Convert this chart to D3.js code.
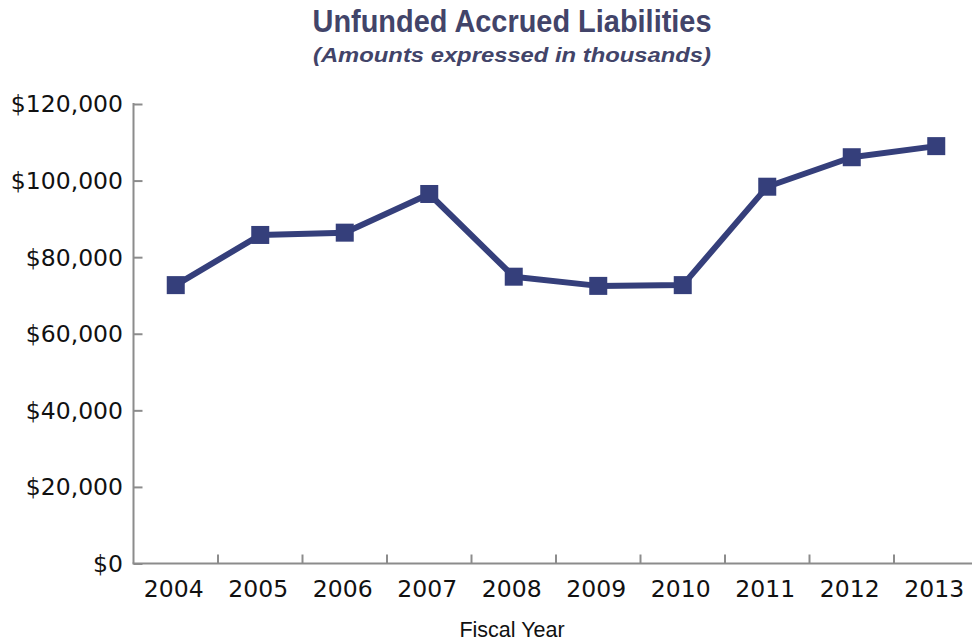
<!DOCTYPE html>
<html>
<head>
<meta charset="utf-8">
<script src="https://cdn.jsdelivr.net/npm/d3@7"></script>
<style>
  html, body { margin: 0; padding: 0; background: #ffffff; }
  svg { display: block; }
</style>
</head>
<body>
<svg id="chart" width="972" height="643"></svg>
<script>
// Unfunded accrued liabilities by fiscal year (amounts in thousands of dollars)
const years = ["2004", "2005", "2006", "2007", "2008", "2009", "2010", "2011", "2012", "2013"];
const liabilities = [72700, 85800, 86400, 96500, 74900, 72500, 72700, 98400, 106100, 109000];
const yTicks = [0, 20000, 40000, 60000, 80000, 100000, 120000];

const title = "Unfunded Accrued Liabilities";
const subtitle = "(Amounts expressed in thousands)";
const xTitle = "Fiscal Year";

const W = 972, H = 643;
const plotLeft = 133.5, plotTop = 104, plotBottom = 563.5;
const lineColor = "#353f7b";
const axisColor = "#8c8c8c";
const titleColor = "#424469";

const svg = d3.select("#chart");

const x = d3.scaleBand().domain(years).range([plotLeft, plotLeft + 84.5 * years.length]).padding(0);
const y = d3.scaleLinear().domain([0, 120000]).range([plotBottom, plotTop]);

// Titles
svg.append("text")
  .attr("x", 312.5).attr("y", 31.5)
  .attr("textLength", 399).attr("lengthAdjust", "spacingAndGlyphs")
  .style("font-family", "'Liberation Sans', Arial, sans-serif")
  .style("font-weight", "bold").style("font-size", "31px")
  .attr("fill", titleColor)
  .text(title);

svg.append("text")
  .attr("x", 313).attr("y", 61.5)
  .attr("textLength", 398).attr("lengthAdjust", "spacingAndGlyphs")
  .style("font-family", "'Liberation Sans', Arial, sans-serif")
  .style("font-weight", "bold").style("font-style", "italic").style("font-size", "21px")
  .attr("fill", titleColor)
  .text(subtitle);

// Y axis: line on the left, short ticks pointing into the plot
const yAxis = d3.axisRight(y)
  .tickValues(yTicks)
  .tickSize(9)
  .tickFormat("");
const gy = svg.append("g").attr("transform", `translate(${plotLeft},0)`).call(yAxis);
gy.select(".domain").remove();
gy.selectAll(".tick line").attr("stroke", axisColor).attr("stroke-width", 2);
svg.append("line")
  .attr("x1", plotLeft).attr("x2", plotLeft)
  .attr("y1", y(120000) - 1).attr("y2", plotBottom)
  .attr("stroke", axisColor).attr("stroke-width", 2);

// Y tick labels
const fmt = v => "$" + d3.format(",")(v);
svg.append("g").selectAll("text")
  .data(yTicks)
  .join("text")
  .attr("x", 123).attr("y", d => y(d))
  .attr("dy", "0.36em")
  .attr("text-anchor", "end")
  .style("font-family", "'DejaVu Sans', sans-serif")
  .style("font-size", "23.5px")
  .attr("fill", "#111")
  .text(fmt);

// X axis: baseline with ticks at the category boundaries
svg.append("line")
  .attr("x1", plotLeft - 1).attr("x2", W)
  .attr("y1", plotBottom).attr("y2", plotBottom)
  .attr("stroke", axisColor).attr("stroke-width", 2);
svg.append("g").selectAll("line")
  .data(years.slice(1))
  .join("line")
  .attr("x1", d => x(d)).attr("x2", d => x(d))
  .attr("y1", plotBottom).attr("y2", plotBottom - 9)
  .attr("stroke", axisColor).attr("stroke-width", 2);

svg.append("g").selectAll("text")
  .data(years)
  .join("text")
  .attr("x", d => x(d) + x.bandwidth() / 2 - 2)
  .attr("y", 597)
  .attr("text-anchor", "middle")
  .style("font-family", "'DejaVu Sans', sans-serif")
  .style("font-size", "23.5px")
  .attr("fill", "#111")
  .text(d => d);

svg.append("text")
  .attr("x", 512).attr("y", 637)
  .attr("text-anchor", "middle")
  .style("font-family", "'Liberation Sans', Arial, sans-serif")
  .style("font-size", "21.5px")
  .attr("fill", "#111")
  .text(xTitle);

// Series line with square markers
const pts = years.map((yr, i) => ({ yr, v: liabilities[i] }));
const line = d3.line()
  .x(d => x(d.yr) + x.bandwidth() / 2)
  .y(d => y(d.v));

svg.append("path")
  .datum(pts)
  .attr("d", line)
  .attr("fill", "none")
  .attr("stroke", lineColor)
  .attr("stroke-width", 6)
  .attr("stroke-linejoin", "round");

const s = 18;
svg.append("g").selectAll("rect")
  .data(pts)
  .join("rect")
  .attr("x", d => x(d.yr) + x.bandwidth() / 2 - s / 2)
  .attr("y", d => y(d.v) - s / 2)
  .attr("width", s).attr("height", s)
  .attr("fill", lineColor);
</script>
</body>
</html>
